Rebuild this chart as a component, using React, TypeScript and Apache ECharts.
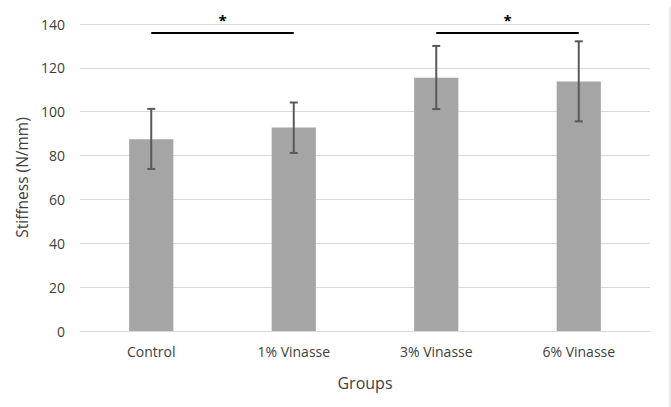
import React, { useEffect, useRef } from "react";
import * as echarts from "echarts";

const categories = ["Control", "1% Vinasse", "3% Vinasse", "6% Vinasse"];
const means = [87.5, 92.8, 115.5, 113.8];
const errUpper = [101.3, 104.2, 130.0, 132.1];
const errLower = [73.9, 81.2, 101.2, 95.6];
const sigPairs = [[0, 1], [2, 3]];
const sigLevel = 136;
const yTicks = { min: 0, max: 140, interval: 20 };

const FONT = "'Open Sans', 'Noto Sans', sans-serif";

export default function App() {
  const ref = useRef<HTMLDivElement>(null);
  useEffect(() => {
    document.body.style.margin = "0";
    const chart = echarts.init(ref.current!, null, { renderer: "svg" });
    const errData = categories.map((_, i) => [i, errLower[i], errUpper[i]]);
    chart.setOption({
      animation: false,
      backgroundColor: "#ffffff",
      grid: { left: 80, right: 21, top: 24, bottom: 76 },
      xAxis: {
        type: "category",
        data: categories,
        name: "Groups",
        nameLocation: "middle",
        nameGap: 44,
        nameTextStyle: { fontFamily: FONT, fontSize: 16, color: "#404040" },
        axisLine: { lineStyle: { color: "#d9d9d9", width: 1 } },
        axisTick: { show: false },
        axisLabel: { fontFamily: FONT, fontSize: 14, color: "#404040", margin: 13 },
      },
      yAxis: {
        type: "value",
        min: yTicks.min,
        max: yTicks.max,
        interval: yTicks.interval,
        name: "Stiffness (N/mm)",
        nameLocation: "middle",
        nameGap: 49,
        nameTextStyle: { fontFamily: FONT, fontSize: 15.5, color: "#404040" },
        axisLine: { show: false },
        axisTick: { show: false },
        axisLabel: { fontFamily: FONT, fontSize: 14, color: "#404040", margin: 15 },
        splitLine: { lineStyle: { color: "#d9d9d9", width: 1 } },
      },
      series: [
        {
          type: "bar",
          data: means,
          barWidth: "31%",
          itemStyle: { color: "#a5a5a5" },
          markLine: {
            silent: true,
            symbol: "none",
            lineStyle: { color: "#000000", width: 2, type: "solid" },
            label: {
              show: true,
              position: "middle",
              formatter: "*",
              fontFamily: FONT,
              fontSize: 15,
              fontWeight: "bold",
              color: "#000000",
              distance: 5,
            },
            data: sigPairs.map(([a, b]) => [
              { coord: [a, sigLevel] },
              { coord: [b, sigLevel] },
            ]),
          },
        },
        {
          type: "custom",
          data: errData,
          z: 10,
          renderItem: (params: any, api: any) => {
            const x = api.value(0);
            const lo = api.coord([x, api.value(1)]);
            const hi = api.coord([x, api.value(2)]);
            const cap = 4;
            const style = { stroke: "#595959", lineWidth: 2 };
            return {
              type: "group",
              children: [
                { type: "line", shape: { x1: hi[0], y1: hi[1], x2: lo[0], y2: lo[1] }, style },
                { type: "line", shape: { x1: hi[0] - cap, y1: hi[1], x2: hi[0] + cap, y2: hi[1] }, style },
                { type: "line", shape: { x1: lo[0] - cap, y1: lo[1], x2: lo[0] + cap, y2: lo[1] }, style },
              ],
            };
          },
        },
      ],
      graphic: [
        {
          type: "line",
          shape: { x1: 670, y1: 6, x2: 670, y2: 407 },
          style: { stroke: "#d9d9d9", lineWidth: 1 },
        },
      ],
    });
    return () => chart.dispose();
  }, []);
  return <div ref={ref} style={{ width: 671, height: 407 }} />;
}
